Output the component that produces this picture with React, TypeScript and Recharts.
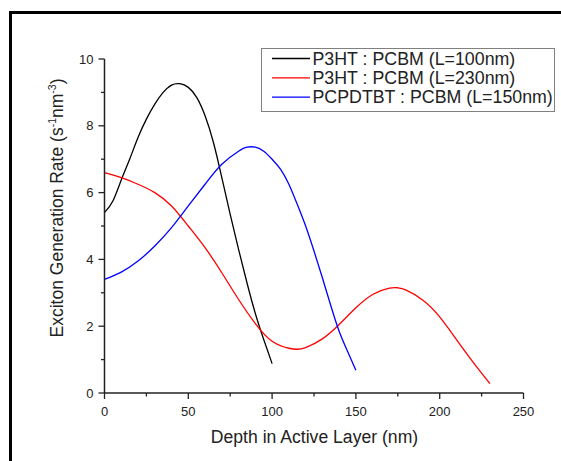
import { LineChart, Line, XAxis, YAxis, Legend, Label } from 'recharts';

const depthL100 = [0, 5, 10, 15, 20, 25, 30, 35, 40, 45, 50, 55, 60, 65, 70, 75, 80, 85, 90, 95, 100];
const rateL100 = [5.4, 5.75, 6.38, 7.0, 7.65, 8.2, 8.65, 9.0, 9.22, 9.26, 9.15, 8.85, 8.3, 7.5, 6.45, 5.35, 4.3, 3.3, 2.38, 1.6, 0.88];

const depthL230 = [0, 10, 20, 30, 40, 50, 60, 70, 80, 90, 100, 110, 115, 120, 130, 140, 150, 160, 170, 175, 180, 190, 200, 210, 220, 230];
const rateL230 = [6.6, 6.45, 6.25, 6.0, 5.6, 5.0, 4.35, 3.6, 2.8, 2.08, 1.55, 1.34, 1.31, 1.36, 1.62, 2.05, 2.55, 2.95, 3.14, 3.15, 3.08, 2.78, 2.28, 1.6, 0.92, 0.28];

const depthL150 = [0, 10, 20, 30, 40, 50, 60, 70, 80, 85, 90, 95, 100, 105, 110, 115, 120, 125, 130, 135, 140, 145, 150];
const rateL150 = [3.4, 3.62, 3.95, 4.4, 4.95, 5.6, 6.25, 6.85, 7.24, 7.36, 7.36, 7.24, 7.0, 6.7, 6.25, 5.65, 5.0, 4.25, 3.45, 2.62, 1.85, 1.25, 0.68];

const seriesNames = ['P3HT : PCBM (L=100nm)', 'P3HT : PCBM (L=230nm)', 'PCPDTBT : PCBM (L=150nm)'];
const seriesColors = ['#000000', '#ff0000', '#0000ff'];

const xTicks = [0, 25, 50, 75, 100, 125, 150, 175, 200, 225, 250];
const yTicks = [0, 1, 2, 3, 4, 5, 6, 7, 8, 9, 10];

const toPoints = (xs: number[], ys: number[]) => xs.map((x, i) => ({ x, y: ys[i] }));
const seriesData = [
  toPoints(depthL100, rateL100),
  toPoints(depthL230, rateL230),
  toPoints(depthL150, rateL150),
];

const FONT = '"Liberation Sans", Arial, sans-serif';
const INK = '#222';

function XTick(props: any) {
  const { x, y, payload } = props;
  const major = payload.value % 50 === 0;
  return (
    <g>
      <line x1={x} y1={y} x2={x} y2={y + (major ? 6 : 3.5)} stroke={INK} strokeWidth={1.3} />
      {major && (
        <text x={x} y={y + 22.5} textAnchor="middle" fontSize={13} fontFamily={FONT} fill={INK}>
          {payload.value}
        </text>
      )}
    </g>
  );
}

function YTick(props: any) {
  const { x, y, payload } = props;
  const major = payload.value % 2 === 0;
  return (
    <g>
      <line x1={x - (major ? 6 : 3.5)} y1={y} x2={x} y2={y} stroke={INK} strokeWidth={1.3} />
      {major && (
        <text x={x - 11} y={y + 4.6} textAnchor="end" fontSize={13} fontFamily={FONT} fill={INK}>
          {payload.value}
        </text>
      )}
    </g>
  );
}

function YTitle() {
  return (
    <text
      x={55}
      y={200}
      transform="rotate(-90 55 200)"
      textAnchor="middle"
      fontSize={17.5}
      fontFamily={FONT}
      fill={INK}
    >
      Exciton Generation Rate (s
      <tspan fontSize={10.5} dy={-7}>-1</tspan>
      <tspan dy={7}>nm</tspan>
      <tspan fontSize={10.5} dy={-7}>-3</tspan>
      <tspan dy={7}>)</tspan>
    </text>
  );
}

function XTitle() {
  return (
    <text x={306.5} y={435} textAnchor="middle" fontSize={17.6} fontFamily={FONT} fill={INK}>
      Depth in Active Layer (nm)
    </text>
  );
}

function LegendBox(props: any) {
  const items = props.payload || [];
  return (
    <div
      style={{
        width: 294,
        height: 64,
        boxSizing: 'border-box',
        border: '1px solid #808080',
        background: '#fff',
      }}
    >
      <svg width={292} height={62} style={{ display: 'block' }}>
        {items.map((item: any, i: number) => {
          const cy = 9.5 + i * 19.3;
          return (
            <g key={item.value}>
              <line x1={10} y1={cy} x2={48} y2={cy} stroke={item.color} strokeWidth={1.3} />
              <text x={50.5} y={cy + 6} fontSize={17.8} fontFamily={FONT} fill={INK}>
                {item.value}
              </text>
            </g>
          );
        })}
      </svg>
    </div>
  );
}

export default function App() {
  return (
    <div
      style={{
        position: 'fixed',
        left: 0,
        top: 0,
        width: 561,
        height: 461,
        overflow: 'hidden',
        background: '#fff',
      }}
    >
      {/* outer frame: only the top and left edges show in the picture */}
      <div style={{ position: 'absolute', left: 9, top: 11, width: 560, height: 3, background: '#000' }} />
      <div style={{ position: 'absolute', left: 9, top: 11, width: 3, height: 460, background: '#000' }} />
      <div style={{ position: 'absolute', left: 8, top: 8, width: 553, height: 453 }}>
        <LineChart width={553} height={453} margin={{ top: 51, right: 37.5, bottom: 38, left: 36.5 }}>
          <XAxis
            type="number"
            dataKey="x"
            domain={[0, 250]}
            ticks={xTicks}
            interval={0}
            height={30}
            tickSize={0}
            tickMargin={0}
            tick={(p: any) => <XTick {...p} />}
            axisLine={{ stroke: INK, strokeWidth: 1.5 }}
            tickLine={false}
          >
            <Label content={() => <XTitle />} />
          </XAxis>
          <YAxis
            type="number"
            domain={[0, 10]}
            ticks={yTicks}
            interval={0}
            width={60}
            tickSize={0}
            tickMargin={0}
            tick={(p: any) => <YTick {...p} />}
            axisLine={{ stroke: INK, strokeWidth: 1.5 }}
            tickLine={false}
          >
            <Label content={() => <YTitle />} />
          </YAxis>
          <Legend
            layout="horizontal"
            verticalAlign="middle"
            align="center"
            content={(p: any) => <LegendBox {...p} />}
            wrapperStyle={{ position: 'absolute', left: 253, top: 40, width: 294, height: 64 }}
          />
          {seriesData.map((d, i) => (
            <Line
              key={seriesNames[i]}
              data={d}
              dataKey="y"
              name={seriesNames[i]}
              type="natural"
              stroke={seriesColors[i]}
              strokeWidth={1.3}
              dot={false}
              activeDot={false}
              isAnimationActive={false}
            />
          ))}
        </LineChart>
      </div>
    </div>
  );
}
